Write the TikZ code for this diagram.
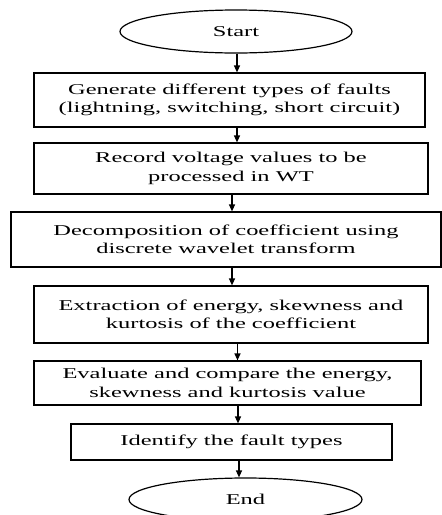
\documentclass[tikz,border=0pt]{standalone}
\usepackage{fontspec}
\setmainfont[FakeStretch=1.63]{Liberation Serif}
\usepackage{tikz}
\usetikzlibrary{arrows.meta,shapes.geometric,calc}

\begin{document}
\begin{tikzpicture}[
  x=1pt, y=-1pt,
  stepbox/.style={rectangle, draw, line width=1.2pt, align=center, inner sep=0pt,
    font=\fontsize{15}{18.5}\selectfont},
  terminal/.style={ellipse, draw, line width=1.2pt, inner sep=0pt,
    font=\fontsize{15}{18.5}\selectfont},
  >={Triangle[width=6pt,length=7pt]}, line width=1.2pt
]
\useasboundingbox (0,0) rectangle (442,515);

% Terminals
\node[terminal, minimum width=232pt, minimum height=43pt] (start) at (236,31.5) {Start};
\node[terminal, minimum width=233pt, minimum height=43pt] (end) at (245.5,499.5) {End};

% Process steps
\node[stepbox, minimum width=391pt, minimum height=54pt] (gen) at (229.5,100)
  {Generate different types of faults\\(lightning, switching, short circuit)};
\node[stepbox, minimum width=394pt, minimum height=51pt] (rec) at (231,168.5)
  {Record voltage values to be\\processed in WT};
\node[stepbox, minimum width=430pt, minimum height=55pt] (dec) at (226,239.5)
  {Decomposition of coefficient using\\discrete wavelet transform};
\node[stepbox, minimum width=394pt, minimum height=57pt] (ext) at (231,314.5)
  {Extraction of energy, skewness and\\kurtosis of the coefficient};
\node[stepbox, minimum width=387pt, minimum height=44pt] (eval) at (227.5,383)
  {Evaluate and compare the energy,\\skewness and kurtosis value};
\node[stepbox, minimum width=321pt, minimum height=36pt] (ident) at (231.5,442)
  {Identify the fault types};

% Arrows
\draw[->] ([xshift=1pt]start.south) -- ([xshift=1pt]start.south |- gen.north);
\draw[->] ([xshift=7.5pt]gen.south) -- ([xshift=7.5pt]gen.south |- rec.north);
\draw[->] ([xshift=1pt]rec.south) -- ([xshift=1pt]rec.south |- dec.north);
\draw[->] ([xshift=6pt]dec.south) -- ([xshift=6pt]dec.south |- ext.north);
\draw[->] ([xshift=6.5pt]ext.south) -- ([xshift=6.5pt]ext.south |- eval.north);
\draw[->] ([xshift=10.5pt]eval.south) -- ([xshift=10.5pt]eval.south |- ident.north);
\draw[->] ([xshift=7.5pt]ident.south) -- ([xshift=7.5pt]ident.south |- end.north);

\end{tikzpicture}
\end{document}
